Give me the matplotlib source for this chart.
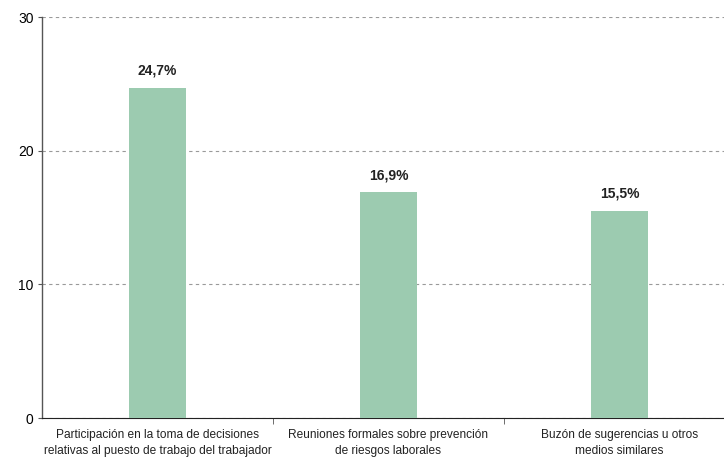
import matplotlib.pyplot as plt
import numpy as np

categories = [
    "Participación en la toma de decisiones\nrelativas al puesto de trabajo del trabajador",
    "Reuniones formales sobre prevención\nde riesgos laborales",
    "Buzón de sugerencias u otros\nmedios similares",
]
values = [24.7, 16.9, 15.5]
value_labels = ["24,7%", "16,9%", "15,5%"]
y_ticks = [0, 10, 20, 30]

fig = plt.figure(figsize=(7.24, 4.65), dpi=100)
# axes runs slightly past the right edge of the figure, as in the original
ax = fig.add_axes([0.058, 0.101, 0.957, 0.862])

x = np.arange(len(categories))
ax.bar(x, values, width=0.25, color="#9ccbb0", zorder=3)

for xi, v, lab in zip(x, values, value_labels):
    ax.text(xi, v + 0.75, lab, ha="center", va="bottom", fontsize=10,
            fontweight="bold", family="Liberation Sans", color="#222222")

ax.set_xlim(-0.5, len(categories) - 0.5)
ax.set_ylim(0, 30)
ax.set_yticks(y_ticks)
ax.set_yticklabels([str(t) for t in y_ticks], family="Liberation Sans", fontsize=10)
ax.yaxis.grid(True, linestyle=(0, (3, 3)), color="#9a9a9a", linewidth=0.8, zorder=0)

ax.set_xticks(x)
ax.set_xticklabels(categories, family="Liberation Sans", fontsize=8.6,
                   linespacing=1.45, color="#222222")
ax.tick_params(axis="x", length=0, pad=8)
ax.set_xticks([0.5, 1.5], minor=True)
ax.tick_params(axis="x", which="minor", length=4, color="#555555")
ax.tick_params(axis="y", length=3, color="#555555", pad=3)

for s in ["top", "right"]:
    ax.spines[s].set_visible(False)
ax.spines["left"].set_color("#555555")
ax.spines["bottom"].set_color("#222222")
ax.spines["left"].set_linewidth(1.0)

fig.savefig("out.png", dpi=100)
